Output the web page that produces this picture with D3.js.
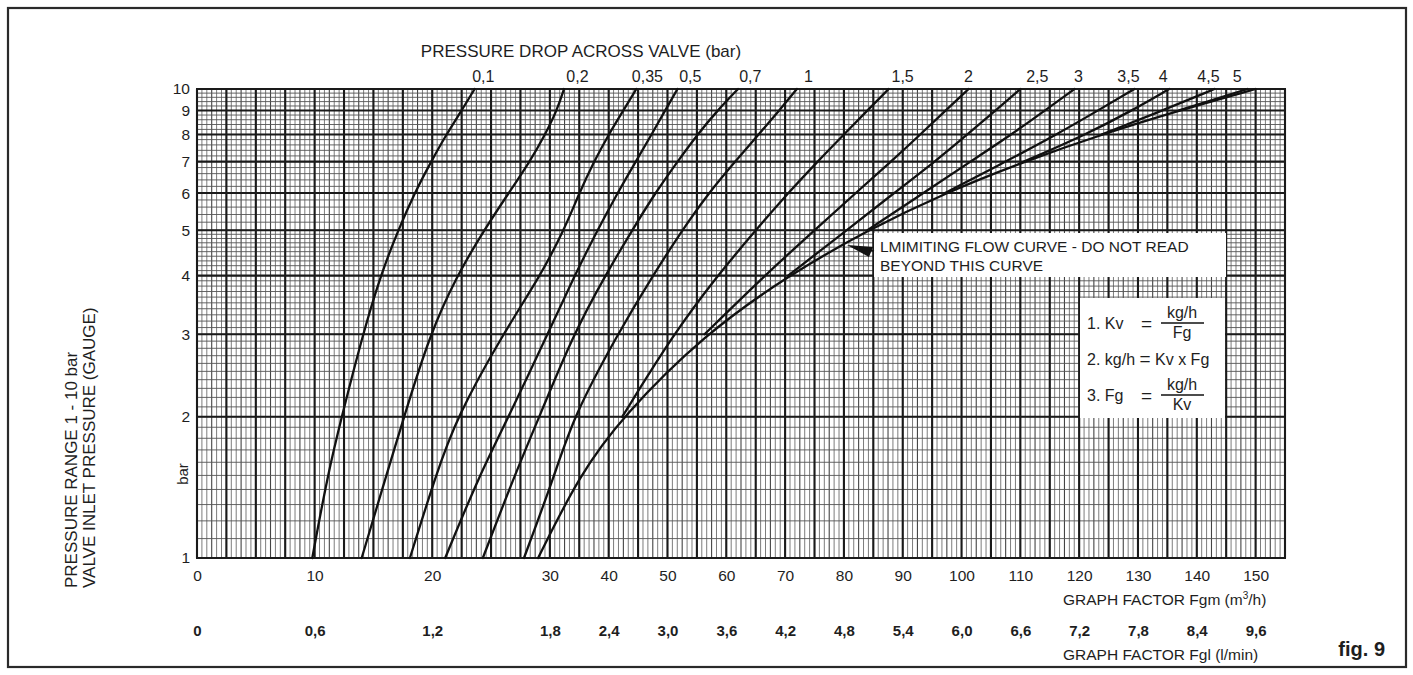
<!DOCTYPE html>
<html>
<head>
<meta charset="utf-8">
<script src="https://cdn.jsdelivr.net/npm/d3@7/dist/d3.min.js"></script>
<style>
  body { margin: 0; background: #fff; }
  svg text { font-family: Arial, "Liberation Sans", Helvetica, sans-serif; fill: #1e1e1e; }
</style>
</head>
<body>
<div id="chart"></div>
<script>
// inlet pressure (bar, gauge) at which the curves were read
const inletPressure = [1, 1.5, 2, 3, 4, 5, 6, 7, 8, 9, 10]
// pressure drop of each curve, as printed on top, and where the label sits (Fgm)
const dropLabels = ['0,1', '0,2', '0,35', '0,5', '0,7', '1', '1,5', '2', '2,5', '3', '3,5', '4', '4,5', '5']
const dropLabelFgm = [24.3, 34.6, 46.5, 53.8, 64.0, 73.9, 89.9, 101.1, 112.8, 119.8, 128.3, 134.2, 141.9, 146.8]
// graph factor Fgm (m3/h) read for each curve at inletPressure, null = curve not drawn there
const flowByDrop = [
  [9.8, 11.1, 12.3, 14.1, 15.6, 17.1, 18.5, 19.9, 21.2, 22.5, 23.6],
  [14.0, 16.1, 17.6, 19.8, 22.1, 24.4, 26.5, 28.3, 29.6, 31.2, 32.4],
  [18.1, 20.3, 22.1, 26.0, 29.2, 32.4, 35.0, 37.5, 40.0, 42.5, 44.7],
  [21.1, 24.0, 26.5, 29.8, 34.2, 38.1, 41.5, 44.6, 47.3, 49.6, 51.7],
  [24.3, 27.0, 29.1, 34.0, 39.4, 44.0, 47.9, 51.7, 55.1, 58.5, 62.0],
  [27.8, 30.8, 34.0, 41.5, 47.5, 52.5, 57.0, 61.5, 65.5, 69.0, 72.0],
  [null, null, 42.3, 51.0, 58.5, 65.0, 70.5, 75.5, 80.0, 84.0, 87.6],
  [null, null, null, 56.3, 66.5, 75.0, 82.0, 88.0, 93.0, 97.3, 101.2],
  [null, null, null, null, 70.5, 80.5, 88.5, 95.5, 101.0, 105.8, 110.0],
  [null, null, null, null, null, 84.0, 93.5, 101.5, 108.5, 114.2, 119.2],
  [null, null, null, null, null, null, 97.2, 107.5, 116.2, 123.2, 129.4],
  [null, null, null, null, null, null, null, 110.6, 121.2, 129.0, 135.3],
  [null, null, null, null, null, null, null, null, 123.8, 134.2, 143.0],
  [null, null, null, null, null, null, null, null, null, 137.0, 148.6]
]
// limiting flow curve
const limitingFlow = [29.0, 35.0, 42.3, 56.3, 70.5, 84.0, 97.2, 110.6, 123.8, 137.0, 150.0]

// axis labels
const fgmTicks = [0, 10, 20, 30, 40, 50, 60, 70, 80, 90, 100, 110, 120, 130, 140, 150]
const fglLabels = ['0', '0,6', '1,2', '1,8', '2,4', '3,0', '3,6', '4,2', '4,8', '5,4', '6,0', '6,6', '7,2', '7,8', '8,4', '9,6']
const pressureTicks = [1, 2, 3, 4, 5, 6, 7, 8, 9, 10]

const W = 1413
const H = 675
const plot = {left: 197, top: 89, width: 1088, height: 469}
const font = 'Arial, "Liberation Sans", Helvetica, sans-serif'

const svg = d3.select('#chart')
  .append('svg')
  .attr('width', W)
  .attr('height', H)

svg.append('rect')
  .attr('x', 8).attr('y', 8)
  .attr('width', W - 15).attr('height', H - 16)
  .attr('fill', 'none')
  .attr('stroke', '#2a2a2a')
  .attr('stroke-width', 2.2)

// graph paper: 37 heavy columns, 12 of them for 0-30, the rest for 30-155
const x = d3.scaleLinear()
  .domain([0, 30, 155])
  .range([0, plot.width * 12 / 37, plot.width])
const y = d3.scaleLog()
  .domain([1, 10])
  .range([plot.height, 0])
const paper = d3.scaleLinear().domain([0, 37]).range([0, plot.width])

const g = svg.append('g')
  .attr('transform', `translate(${plot.left},${plot.top})`)

const grid = g.append('g').attr('class', 'grid')

// thin vertical lines
grid.selectAll('.vthin')
  .data(d3.range(0, 37 * 6 + 1))
  .enter().append('line')
  .attr('class', 'vthin')
  .attr('x1', d => paper(d / 6)).attr('x2', d => paper(d / 6))
  .attr('y1', 0).attr('y2', plot.height)
  .attr('stroke', d => d % 3 === 0 ? '#444' : '#666')
  .attr('stroke-width', d => d % 3 === 0 ? 1.1 : 0.85)

// thin horizontal lines
let hthin = d3.range(1, 5, 0.1).concat(d3.range(5, 10.001, 0.2))
grid.selectAll('.hthin')
  .data(hthin)
  .enter().append('line')
  .attr('class', 'hthin')
  .attr('x1', 0).attr('x2', plot.width)
  .attr('y1', d => y(d)).attr('y2', d => y(d))
  .attr('stroke', '#555')
  .attr('stroke-width', 0.9)

// heavy lines
grid.selectAll('.vheavy')
  .data(d3.range(0, 38))
  .enter().append('line')
  .attr('class', 'vheavy')
  .attr('x1', d => paper(d)).attr('x2', d => paper(d))
  .attr('y1', 0).attr('y2', plot.height)
  .attr('stroke', '#1a1a1a')
  .attr('stroke-width', 2.1)

grid.selectAll('.hheavy')
  .data(pressureTicks)
  .enter().append('line')
  .attr('class', 'hheavy')
  .attr('x1', 0).attr('x2', plot.width)
  .attr('y1', d => y(d)).attr('y2', d => y(d))
  .attr('stroke', '#1a1a1a')
  .attr('stroke-width', 2.1)

g.append('rect')
  .attr('width', plot.width).attr('height', plot.height)
  .attr('fill', 'none')
  .attr('stroke', '#1a1a1a')
  .attr('stroke-width', 2)

// curves
const line = d3.line()
  .x(d => x(d[0]))
  .y(d => y(d[1]))
  .curve(d3.curveBasis)

const curves = flowByDrop.map(row => row
  .map((f, i) => [f, inletPressure[i]])
  .filter(d => d[0] !== null))
const limiting = limitingFlow.map((f, i) => [f, inletPressure[i]])

g.selectAll('.curve')
  .data(curves.concat([limiting]))
  .enter().append('path')
  .attr('class', 'curve')
  .attr('d', line)
  .attr('fill', 'none')
  .attr('stroke', '#111')
  .attr('stroke-width', 2.3)
  .attr('stroke-linecap', 'round')

function styleText (sel, size, weight) {
  sel.selectAll('text')
    .style('font-size', size)
    .style('font-weight', weight || 'normal')
    .style('font-family', font)
    .attr('fill', '#1e1e1e')
}

// pressure drop labels on top
const dropAxis = g.append('g')
  .call(d3.axisTop(x).tickValues(dropLabelFgm).tickSize(0).tickPadding(7)
    .tickFormat((d, i) => dropLabels[i]))
dropAxis.select('.domain').remove()
styleText(dropAxis, '16px')

svg.append('text')
  .attr('x', 581).attr('y', 57)
  .attr('text-anchor', 'middle')
  .style('font-size', '17px')
  .text('PRESSURE DROP ACROSS VALVE (bar)')

// axes
const yAxis = g.append('g')
  .call(d3.axisLeft(y).tickValues(pressureTicks).tickFormat(d3.format('d')).tickSize(0).tickPadding(7))
yAxis.select('.domain').remove()
styleText(yAxis, '15.5px')

const xAxis = g.append('g')
  .attr('transform', `translate(0,${plot.height})`)
  .call(d3.axisBottom(x).tickValues(fgmTicks).tickSize(0).tickPadding(12))
xAxis.select('.domain').remove()
styleText(xAxis, '15.5px')

const fglAxis = g.append('g')
  .attr('transform', `translate(0,${plot.height})`)
  .call(d3.axisBottom(x).tickValues(fgmTicks).tickSize(0).tickPadding(67)
    .tickFormat((d, i) => fglLabels[i]))
fglAxis.select('.domain').remove()
styleText(fglAxis, '15px', 'bold')

const fgmTitle = svg.append('text')
  .attr('x', 1063).attr('y', 605)
  .style('font-size', '15.5px')
fgmTitle.append('tspan').text('GRAPH FACTOR Fgm (m')
fgmTitle.append('tspan').attr('dy', -6).style('font-size', '10px').text('3')
fgmTitle.append('tspan').attr('dy', 6).text('/h)')

svg.append('text')
  .attr('x', 1063).attr('y', 660)
  .style('font-size', '15.5px')
  .text('GRAPH FACTOR Fgl (l/min)')

svg.append('text')
  .attr('x', 1385).attr('y', 656)
  .attr('text-anchor', 'end')
  .style('font-size', '20px')
  .style('font-weight', 'bold')
  .text('fig. 9')

svg.append('text')
  .attr('transform', 'translate(188,474) rotate(-90)')
  .attr('text-anchor', 'middle')
  .style('font-size', '15px')
  .text('bar')

svg.append('text')
  .attr('transform', 'translate(77,588) rotate(-90)')
  .style('font-size', '17px')
  .text('PRESSURE RANGE 1 - 10 bar')

svg.append('text')
  .attr('transform', 'translate(95,588) rotate(-90)')
  .style('font-size', '17px')
  .text('VALVE INLET PRESSURE (GAUGE)')

// limiting flow note
const note = svg.append('g')
note.append('rect')
  .attr('x', 874).attr('y', 233)
  .attr('width', 352).attr('height', 44)
  .attr('fill', '#fff')
note.append('text').attr('x', 880).attr('y', 252).style('font-size', '15.5px')
  .text('LMIMITING FLOW CURVE - DO NOT READ')
note.append('text').attr('x', 880).attr('y', 271).style('font-size', '15.5px')
  .text('BEYOND THIS CURVE')
note.append('line')
  .attr('x1', 874).attr('y1', 251).attr('x2', 858).attr('y2', 248)
  .attr('stroke', '#111').attr('stroke-width', 1.5)
note.append('path')
  .attr('d', 'M847,245 L873,247 L869,257 Z')
  .attr('fill', '#111')

// formula box
const fb = svg.append('g')
fb.append('rect')
  .attr('x', 1080).attr('y', 298)
  .attr('width', 145).attr('height', 120)
  .attr('fill', '#fff')

function fraction (cx, cy, top, bottom) {
  fb.append('text').attr('x', cx).attr('y', cy - 5).attr('text-anchor', 'middle').style('font-size', '16px').text(top)
  fb.append('line').attr('x1', cx - 21).attr('x2', cx + 22).attr('y1', cy).attr('y2', cy)
    .attr('stroke', '#111').attr('stroke-width', 1.4)
  fb.append('text').attr('x', cx).attr('y', cy + 15).attr('text-anchor', 'middle').style('font-size', '16px').text(bottom)
}
fb.append('text').attr('x', 1087).attr('y', 329).style('font-size', '16px').text('1. Kv')
fb.append('text').attr('x', 1141).attr('y', 330).style('font-size', '19px').text('=')
fraction(1182, 323, 'kg/h', 'Fg')
fb.append('text').attr('x', 1087).attr('y', 365).style('font-size', '16px')
  .text('2. kg/h ').append('tspan').style('font-size', '19px').text('=')
  .select(function () { return this.parentNode })
  .append('tspan').text(' Kv x Fg')
fb.append('text').attr('x', 1087).attr('y', 401).style('font-size', '16px').text('3. Fg')
fb.append('text').attr('x', 1141).attr('y', 402).style('font-size', '19px').text('=')
fraction(1182, 395, 'kg/h', 'Kv')
</script>
</body>
</html>
